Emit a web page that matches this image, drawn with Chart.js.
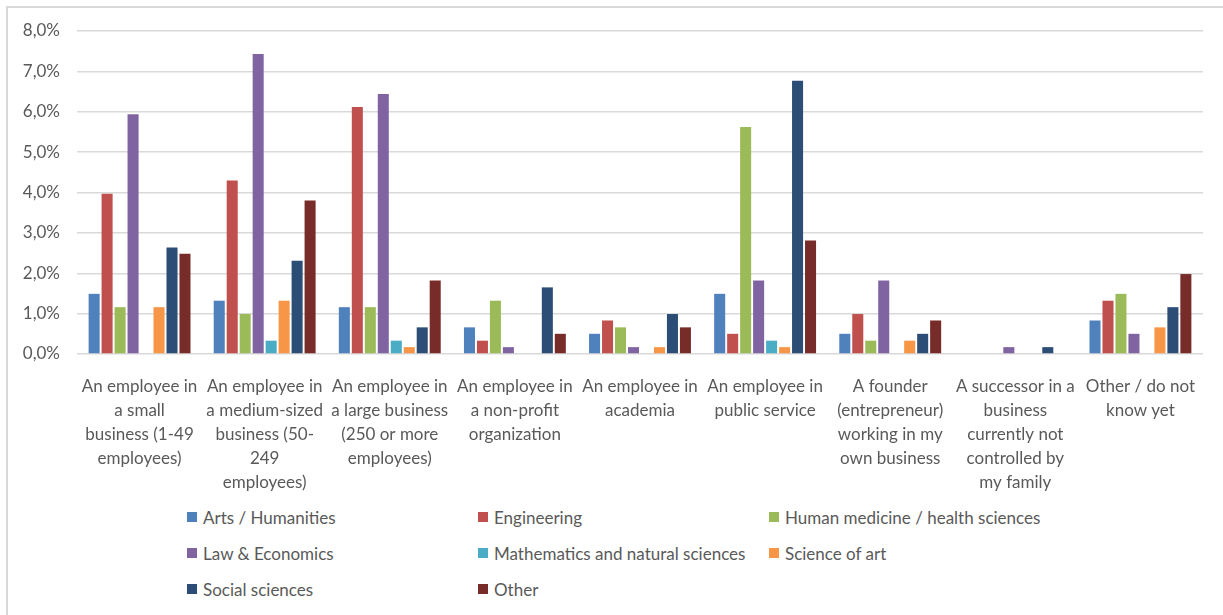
<!DOCTYPE html>
<html>
<head>
<meta charset="utf-8">
<script src="https://cdn.jsdelivr.net/npm/chart.js@4"></script>
<style>
  body { margin: 0; background: #fff; overflow: hidden; }
  #frame {
    position: absolute; left: 6px; top: 6px;
    width: 1240px; height: 640px;
    border: 2px solid #d9d9d9;
  }
  #wrap { position: absolute; left: 0; top: 0; width: 1223px; height: 500px; }
  #legend {
    position: absolute; left: 187px; top: 505px;
    display: grid; grid-template-columns: 291px 291px 291px;
    grid-auto-rows: 36px;
    font-family: Lato, "Open Sans", sans-serif; font-size: 17px; color: #595959;
  }
  .item { display: flex; align-items: center; height: 24px; white-space: nowrap; }
  .box { width: 10px; height: 10px; margin-right: 6px; flex: none; }
</style>
</head>
<body>
<div id="frame"></div>
<div id="wrap"><canvas id="careerChart"></canvas></div>
<div id="legend"></div>
<script>
// career choice by field of study, share of respondents in %
const careers = [
  ["An employee in", "a small", "business (1-49", "employees)"],
  ["An employee in", "a medium-sized", "business (50-", "249", "employees)"],
  ["An employee in", "a large business", "(250 or more", "employees)"],
  ["An employee in", "a non-profit", "organization"],
  ["An employee in", "academia"],
  ["An employee in", "public service"],
  ["A founder", "(entrepreneur)", "working in my", "own business"],
  ["A successor in a", "business", "currently not", "controlled by", "my family"],
  ["Other / do not", "know yet"]
];

const fields = [
  "Arts / Humanities", "Engineering", "Human medicine / health sciences",
  "Law & Economics", "Mathematics and natural sciences", "Science of art",
  "Social sciences", "Other"
];

const artsHumanities = [1.49, 1.32, 1.16, 0.66, 0.50, 1.49, 0.50, 0, 0.83];
const engineering    = [3.97, 4.30, 6.12, 0.33, 0.83, 0.50, 0.99, 0, 1.32];
const humanMedicine  = [1.16, 0.99, 1.16, 1.32, 0.66, 5.62, 0.33, 0, 1.49];
const lawEconomics   = [5.94, 7.43, 6.44, 0.17, 0.17, 1.82, 1.82, 0.17, 0.50];
const mathNatural    = [0, 0.33, 0.33, 0, 0, 0.33, 0, 0, 0];
const scienceOfArt   = [1.16, 1.32, 0.17, 0, 0.17, 0.17, 0.33, 0, 0.66];
const socialSciences = [2.64, 2.31, 0.66, 1.65, 0.99, 6.77, 0.50, 0.17, 1.16];
const otherField     = [2.48, 3.80, 1.82, 0.50, 0.66, 2.81, 0.83, 0, 1.98];

const yTicks = [0, 1, 2, 3, 4, 5, 6, 7, 8];

const series = [artsHumanities, engineering, humanMedicine, lawEconomics,
  mathNatural, scienceOfArt, socialSciences, otherField];
const colors = ["#4f81bd", "#c0504d", "#9bbb59", "#8064a2",
  "#4bacc6", "#f79646", "#2c4d75", "#772c2a"];

const FONT = "Lato, 'Open Sans', sans-serif";
const GREY = "#595959";

const chart = new Chart(document.getElementById("careerChart"), {
  type: "bar",
  data: {
    labels: careers,
    datasets: series.map((values, i) => ({
      label: fields[i],
      data: values,
      backgroundColor: colors[i],
      categoryPercentage: 0.83,
      barPercentage: 0.85
    }))
  },
  options: {
    responsive: true,
    maintainAspectRatio: false,
    animation: false,
    layout: { padding: { top: 31, right: 20, bottom: 0, left: 0 } },
    plugins: {
      legend: { display: false },
      tooltip: { enabled: false }
    },
    scales: {
      x: {
        grid: { display: false },
        border: { display: false },
        afterFit: scale => { scale.height = 146; },
        ticks: {
          autoSkip: false,
          maxRotation: 0,
          padding: 13,
          color: GREY,
          font: { family: FONT, size: 17, lineHeight: "24px" }
        }
      },
      y: {
        min: 0,
        max: 8,
        afterFit: scale => { scale.width = 77; },
        afterBuildTicks: scale => { scale.ticks = yTicks.map(v => ({ value: v })); },
        grid: { color: "#d9d9d9", lineWidth: 1.5, drawTicks: false },
        border: { display: false },
        ticks: {
          padding: 17,
          color: GREY,
          font: { family: FONT, size: 17 },
          callback: v => v.toFixed(1).replace(".", ",") + "%"
        }
      }
    }
  }
});

// legend in three columns, built from the datasets
const legend = document.getElementById("legend");
chart.data.datasets.forEach(ds => {
  const item = document.createElement("div");
  item.className = "item";
  item.innerHTML = `<span class="box" style="background:${ds.backgroundColor}"></span>${ds.label}`;
  legend.appendChild(item);
});
</script>
</body>
</html>
